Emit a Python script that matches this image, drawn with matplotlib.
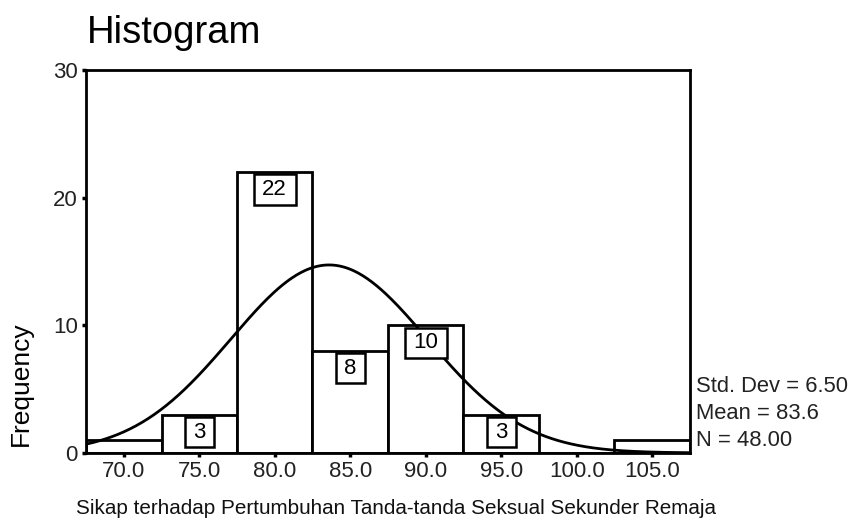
import numpy as np
import matplotlib
matplotlib.use("Agg")
import matplotlib.pyplot as plt

# Data
bin_centers = [70, 75, 80, 85, 90, 95, 100, 105]
counts = [1, 3, 22, 8, 10, 3, 0, 1]
bin_width = 5
tick_labels = ["70.0", "75.0", "80.0", "85.0", "90.0", "95.0", "100.0", "105.0"]
std_dev = 6.50
mean = 83.6
n = 48
title = "Histogram"
xlabel = "Sikap terhadap Pertumbuhan Tanda-tanda Seksual Sekunder Remaja"
ylabel = "Frequency"

plt.rcParams['font.family'] = ['Liberation Sans', 'DejaVu Sans']

fig = plt.figure(figsize=(8.56, 5.23), dpi=100)
ax = fig.add_axes([0.1005, 0.134, 0.7055, 0.732])

ax.bar(bin_centers, counts, width=bin_width, facecolor='white', edgecolor='black', linewidth=2, zorder=2)

# Normal curve
xs = np.linspace(67.5, 107.5, 400)
ys = n * bin_width * np.exp(-0.5 * ((xs - mean) / std_dev) ** 2) / (std_dev * np.sqrt(2 * np.pi))
ax.plot(xs, ys, color='black', linewidth=2, zorder=4)

# Count labels in boxes
for c, h in zip(bin_centers, counts):
    if h >= 3:
        ax.annotate(str(h), xy=(c, h), xytext=(0, -5), textcoords='offset points',
                    ha='center', va='top', fontsize=16, zorder=5,
                    bbox=dict(boxstyle='square,pad=0.38', mutation_aspect=0.55,
                              facecolor='white', edgecolor='black', linewidth=1.8))

ax.set_xlim(67.5, 107.5)
ax.set_ylim(0, 30)
ax.set_xticks(bin_centers)
ax.set_xticklabels(tick_labels)
ax.set_yticks([0, 10, 20, 30])
ax.tick_params(axis='both', direction='out', length=3, width=2.5, labelsize=16, pad=3, labelcolor='#222222')
for s in ax.spines.values():
    s.set_linewidth(2)

ax.set_xlabel(xlabel, fontsize=14.9, color='#111111')
ax.xaxis.set_label_coords(0.513, -0.12)
ax.xaxis.label.set_va('top')
ax.set_ylabel(ylabel, fontsize=19)
ax.yaxis.set_label_coords(-0.088, 0.18)

fig.text(87 / 856, 1 - 43 / 523, title, fontsize=27.5, ha='left', va='baseline')

stats = [f"Std. Dev = {std_dev:.2f}", f"Mean = {mean:.1f}", f"N = {n:.2f}"]
for i, s in enumerate(stats):
    fig.text(696 / 856, 1 - (386 + 27.5 * i) / 523, s, fontsize=15.8, ha='left', va='center', color='#222222')

fig.savefig("out.png", dpi=100)
